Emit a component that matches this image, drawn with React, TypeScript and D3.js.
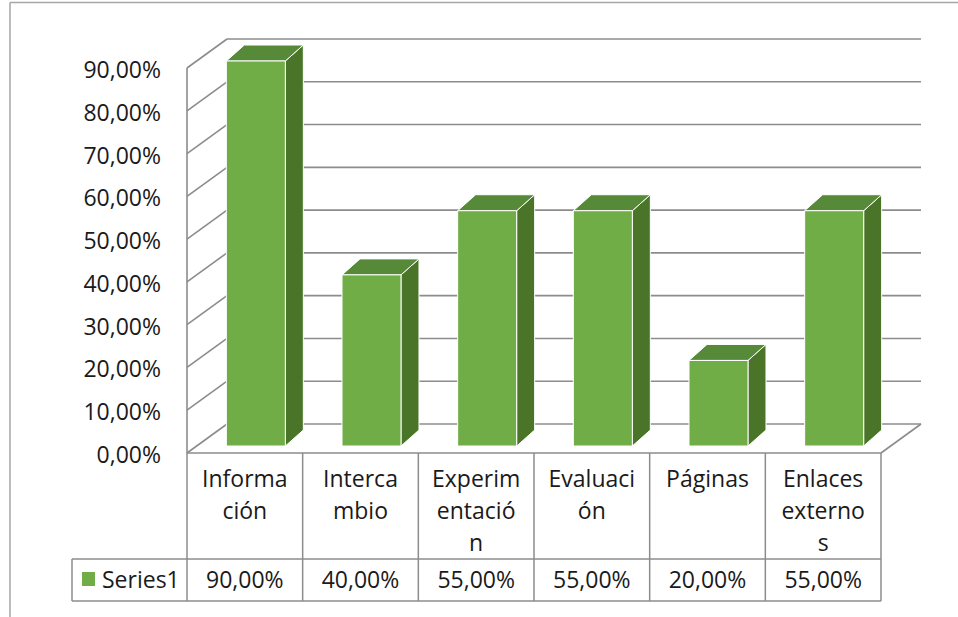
import React from "react";
import * as d3 from "d3";

const categories = ["Informa\nción", "Interca\nmbio", "Experim\nentació\nn", "Evaluaci\nón", "Páginas", "Enlaces\nexterno\ns"];
const values = [90, 40, 55, 55, 20, 55];
const yTicks = [0, 10, 20, 30, 40, 50, 60, 70, 80, 90];
const seriesName = "Series1";

const W = 958;
const H = 617;
const FONT = "'Open Sans', sans-serif";

const fmt = (v: number) => d3.format(".2f")(v).replace(".", ",") + "%";

export default function App() {
  const left = 187;
  const right = 881;
  const floorY = 453;
  const topY = 68;
  const depth = { dx: 40, dy: -29 };
  const barOff = { dx: 11, dy: -7 };
  const barDepth = { dx: 18, dy: -16 };

  const x = d3.scaleBand<string>().domain(categories).range([left, right]).paddingInner(0).paddingOuter(0);
  const y = d3.scaleLinear().domain([0, 90]).range([floorY, topY]);
  const bw = x.bandwidth();
  const barW = bw * 0.51;

  const grid = "#8c8c8c";
  const tableLine = "#8c8c8c";
  const front = "#70ad47";
  const topC = "#578a38";
  const side = "#4a7529";

  const rowTop = floorY;
  const rowMid = 559;
  const rowBot = 601;
  const tableLeft = 72;

  return (
    <svg width={W} height={H} style={{ position: "absolute", left: 0, top: 0 }} fontFamily={FONT}>
      <rect x={0} y={0} width={W} height={H} fill="#fff" />
      {/* chart outer border */}
      <line x1={10} y1={2.5} x2={W} y2={2.5} stroke="#a6a6a6" strokeWidth={1.5} />
      <line x1={10} y1={2.5} x2={10} y2={H} stroke="#a6a6a6" strokeWidth={1.5} />

      {/* walls gridlines */}
      {yTicks.map((t) => (
        <g key={t}>
          <line x1={left} y1={y(t)} x2={left + depth.dx} y2={y(t) + depth.dy} stroke={grid} strokeWidth={1.6} />
          <line x1={left + depth.dx} y1={y(t) + depth.dy} x2={right + depth.dx} y2={y(t) + depth.dy} stroke={grid} strokeWidth={1.6} />
        </g>
      ))}
      {/* floor right edge */}
      <line x1={right} y1={floorY} x2={right + depth.dx} y2={floorY + depth.dy} stroke={grid} strokeWidth={1.6} />
      {/* axis line */}
      <line x1={left} y1={topY} x2={left} y2={floorY} stroke={grid} strokeWidth={1.6} />

      {/* bars */}
      {categories.map((c, i) => {
        const v = values[i];
        const x0 = (x(c) as number) + bw / 2 + barOff.dx - barW / 2;
        const x1 = x0 + barW;
        const yb = y(0) + barOff.dy;
        const yt = y(v) + barOff.dy;
        const ddx = barDepth.dx;
        const ddy = barDepth.dy;
        return (
          <g key={c} stroke="#ffffff" strokeWidth={1} strokeLinejoin="round">
            <path d={`M${x1},${yt} L${x1 + ddx},${yt + ddy} L${x1 + ddx},${yb + ddy} L${x1},${yb} Z`} fill={side} />
            <path d={`M${x0},${yt} L${x0 + ddx},${yt + ddy} L${x1 + ddx},${yt + ddy} L${x1},${yt} Z`} fill={topC} />
            <rect x={x0} y={yt} width={barW} height={yb - yt} fill={front} />
          </g>
        );
      })}

      {/* y tick labels */}
      {yTicks.map((t) => (
        <text key={t} x={161} y={y(t) + 10} textAnchor="end" fontSize={23} fill="#1a1a1a">
          {fmt(t)}
        </text>
      ))}

      {/* data table */}
      <g stroke={tableLine} strokeWidth={1.5}>
        <line x1={left} y1={rowTop} x2={right} y2={rowTop} />
        <line x1={tableLeft} y1={rowMid} x2={right} y2={rowMid} />
        <line x1={tableLeft} y1={rowBot} x2={right} y2={rowBot} />
        <line x1={tableLeft} y1={rowMid} x2={tableLeft} y2={rowBot} />
        {categories.map((c) => (
          <line key={c} x1={x(c) as number} y1={rowTop} x2={x(c) as number} y2={rowBot} />
        ))}
        <line x1={right} y1={rowTop} x2={right} y2={rowBot} />
      </g>
      {categories.map((c, i) => (
        <g key={c}>
          <text textAnchor="middle" fontSize={23} fill="#1a1a1a">
            {c.split("\n").map((ln, k) => (
              <tspan key={k} x={(x(c) as number) + bw / 2} y={487 + k * 32}>
                {ln}
              </tspan>
            ))}
          </text>
          <text x={(x(c) as number) + bw / 2} y={588} textAnchor="middle" fontSize={23} fill="#1a1a1a">
            {fmt(values[i])}
          </text>
        </g>
      ))}
      <rect x={82} y={572} width={13} height={14} fill={front} />
      <text x={102} y={588} fontSize={23} fill="#1a1a1a">
        {seriesName}
      </text>
    </svg>
  );
}
